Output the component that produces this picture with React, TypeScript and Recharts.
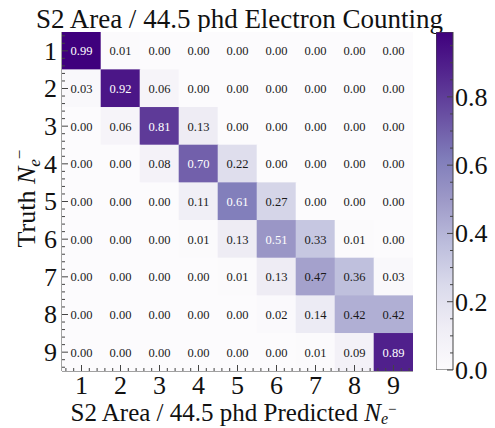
import React from 'react';
import { ScatterChart, Scatter, XAxis, YAxis, BarChart, Bar } from 'recharts';

const predicted = [1, 2, 3, 4, 5, 6, 7, 8, 9];
const truth = [1, 2, 3, 4, 5, 6, 7, 8, 9];
const row1 = [0.99, 0.01, 0.0, 0.0, 0.0, 0.0, 0.0, 0.0, 0.0];
const row2 = [0.03, 0.92, 0.06, 0.0, 0.0, 0.0, 0.0, 0.0, 0.0];
const row3 = [0.0, 0.06, 0.81, 0.13, 0.0, 0.0, 0.0, 0.0, 0.0];
const row4 = [0.0, 0.0, 0.08, 0.7, 0.22, 0.0, 0.0, 0.0, 0.0];
const row5 = [0.0, 0.0, 0.0, 0.11, 0.61, 0.27, 0.0, 0.0, 0.0];
const row6 = [0.0, 0.0, 0.0, 0.01, 0.13, 0.51, 0.33, 0.01, 0.0];
const row7 = [0.0, 0.0, 0.0, 0.0, 0.01, 0.13, 0.47, 0.36, 0.03];
const row8 = [0.0, 0.0, 0.0, 0.0, 0.0, 0.02, 0.14, 0.42, 0.42];
const row9 = [0.0, 0.0, 0.0, 0.0, 0.0, 0.0, 0.01, 0.09, 0.89];
const matrix = [row1, row2, row3, row4, row5, row6, row7, row8, row9];
const colorbarTicks = [0, 0.2, 0.4, 0.6, 0.8];
const vmax = 0.99;

const title = 'S2 Area / 44.5 phd Electron Counting';
const xLabel = 'S2 Area / 44.5 phd Predicted ';
const yLabel = 'Truth ';

const PURPLES = ['#fcfbfd', '#efedf5', '#dadaeb', '#bcbddc', '#9e9ac8', '#807dba', '#6a51a3', '#54278f', '#3f007d'];
const hex = (h: string) => [1, 3, 5].map((i) => parseInt(h.slice(i, i + 2), 16));
function purples(t: number) {
  const c = Math.max(0, Math.min(1, t)) * (PURPLES.length - 1);
  const i = Math.min(PURPLES.length - 2, Math.floor(c));
  const f = c - i;
  const a = hex(PURPLES[i]);
  const b = hex(PURPLES[i + 1]);
  const m = a.map((v, k) => Math.round(v + (b[k] - v) * f));
  return `rgb(${m[0]},${m[1]},${m[2]})`;
}

const data = truth.flatMap((t, r) => predicted.map((p, c) => ({ x: p, y: t, v: matrix[r][c] })));

const W = 495;
const H = 428;
const PL = 62;
const PT = 32;
const PR = 413;
const PB = 371;
const cellW = (PR - PL) / predicted.length;
const cellH = (PB - PT) / truth.length;
const FONT = 'Liberation Serif, Times New Roman, Tinos, Noto Serif, DejaVu Serif, serif';
const FRAME = '#444';
const BIG = 26;

const axisTicks: number[] = [];
for (let i = 3; i <= 47; i++) axisTicks.push(Math.round(i * 0.2 * 10) / 10);
const cbTicks: number[] = [];
for (let i = 0; i <= 19; i++) cbTicks.push(Math.round(i * 0.05 * 100) / 100);
const isMajor = (v: number, step: number) => Math.abs(v / step - Math.round(v / step)) < 1e-6;

const CellShape = (props: any) => {
  const { cx, cy, payload } = props;
  if (cx == null || cy == null) return null;
  const v = payload.v as number;
  const fill = purples(v / vmax);
  const color = v > vmax / 2 ? '#ffffff' : '#1a1a1a';
  return (
    <g>
      <rect x={cx - cellW / 2 - 0.3} y={cy - cellH / 2 - 0.3} width={cellW + 0.6} height={cellH + 0.6} fill={fill} />
      <text x={cx} y={cy} dy="0.35em" textAnchor="middle" fontSize={12.5} fontFamily={FONT} fill={color}>
        {v.toFixed(2)}
      </text>
    </g>
  );
};

const BottomTick = (props: any) => {
  const { x, y, payload } = props;
  const major = isMajor(payload.value, 1);
  return (
    <g>
      <line x1={x} x2={x} y1={y} y2={y - (major ? 6 : 3)} stroke={FRAME} strokeWidth={1} />
      {major && (
        <text x={x} y={y + 23} textAnchor="middle" fontSize={BIG} fontFamily={FONT} fill="#111">
          {payload.value}
        </text>
      )}
    </g>
  );
};
const TopTick = (props: any) => {
  const { x, y, payload } = props;
  const major = isMajor(payload.value, 1);
  return <line x1={x} x2={x} y1={y} y2={y + (major ? 6 : 3)} stroke={FRAME} strokeWidth={1} />;
};
const LeftTick = (props: any) => {
  const { x, y, payload } = props;
  const major = isMajor(payload.value, 1);
  return (
    <g>
      <line x1={x} x2={x + (major ? 6 : 3)} y1={y} y2={y} stroke={FRAME} strokeWidth={1} />
      {major && (
        <text x={x - 5} y={y} dy="0.34em" textAnchor="end" fontSize={BIG} fontFamily={FONT} fill="#111">
          {payload.value}
        </text>
      )}
    </g>
  );
};
const RightTick = (props: any) => {
  const { x, y, payload } = props;
  const major = isMajor(payload.value, 1);
  return <line x1={x} x2={x - (major ? 6 : 3)} y1={y} y2={y} stroke={FRAME} strokeWidth={1} />;
};
const CbTick = (props: any) => {
  const { x, y, payload } = props;
  const major = isMajor(payload.value, 0.2);
  return (
    <g>
      <line x1={x} x2={x - (major ? 6 : 3)} y1={y} y2={y} stroke={FRAME} strokeWidth={1} />
      {major && (
        <text x={x + 2} y={y} dy="0.34em" textAnchor="start" fontSize={BIG} fontFamily={FONT} fill="#111">
          {payload.value.toFixed(1)}
        </text>
      )}
    </g>
  );
};

const cbData = [{ name: 'cb', v: vmax }];

export default function App() {
  const dom: [number, number] = [0.5, 9.5];
  return (
    <div style={{ position: 'absolute', left: 0, top: 0, width: W, height: H, background: '#fff', fontFamily: FONT }}>
      <svg width={W} height={H} style={{ position: 'absolute', left: 0, top: 0 }}>
        <text x={(PL + PR) / 2 + 2} y={28} textAnchor="middle" fontSize={27} fontFamily={FONT} fill="#111">
          {title}
        </text>
        <text x={(PL + PR) / 2 - 4} y={421} textAnchor="middle" fontSize={25} fontFamily={FONT} fill="#111">
          {xLabel}
          <tspan fontStyle="italic">N</tspan>
          <tspan fontStyle="italic" fontSize={16} dy={3}>e</tspan>
          <tspan fontSize={15} dy={-10}>−</tspan>
        </text>
        <text
          transform={`translate(35, ${(PT + PB) / 2 - 3}) rotate(-90)`}
          textAnchor="middle"
          fontSize={BIG}
          fontFamily={FONT}
          fill="#111"
        >
          {yLabel}
          <tspan fontStyle="italic">N</tspan>
          <tspan fontStyle="italic" fontSize={17} dy={5}>e</tspan>
          <tspan fontSize={17} dy={-15}>−</tspan>
        </text>
      </svg>
      <div style={{ position: 'absolute', left: 0, top: 0 }}>
        <ScatterChart width={W} height={H} margin={{ top: PT, right: W - PR, bottom: 0, left: 0 }}>
          <XAxis xAxisId="b" type="number" dataKey="x" domain={dom} allowDataOverflow ticks={axisTicks} interval={0}
            orientation="bottom" height={H - PB} tickSize={0} tickMargin={0} tickLine={false}
            axisLine={{ stroke: FRAME }} tick={<BottomTick />} />
          <XAxis xAxisId="t" type="number" dataKey="x" domain={dom} allowDataOverflow ticks={axisTicks} interval={0}
            orientation="top" height={0} tickSize={0} tickMargin={0} tickLine={false}
            axisLine={{ stroke: FRAME }} tick={<TopTick />} />
          <YAxis yAxisId="l" type="number" dataKey="y" domain={dom} allowDataOverflow reversed ticks={axisTicks} interval={0}
            orientation="left" width={PL} tickSize={0} tickMargin={0} tickLine={false}
            axisLine={{ stroke: FRAME }} tick={<LeftTick />} />
          <YAxis yAxisId="r" type="number" dataKey="y" domain={dom} allowDataOverflow reversed ticks={axisTicks} interval={0}
            orientation="right" width={0} tickSize={0} tickMargin={0} tickLine={false}
            axisLine={{ stroke: FRAME }} tick={<RightTick />} />
          <Scatter data={data} xAxisId="b" yAxisId="l" shape={<CellShape />} isAnimationActive={false} />
          <Scatter data={data} xAxisId="t" yAxisId="r" shape={() => null} isAnimationActive={false} />
        </ScatterChart>
      </div>
      <div style={{ position: 'absolute', left: 436, top: 0 }}>
        <BarChart width={W - 436} height={H} data={cbData} margin={{ top: PT, right: 0, bottom: H - 370, left: 0 }}
          barCategoryGap={0}>
          <defs>
            <linearGradient id="cbGrad" x1="0" y1="1" x2="0" y2="0">
              {PURPLES.map((c, i) => (
                <stop key={i} offset={`${(i / (PURPLES.length - 1)) * 100}%`} stopColor={c} />
              ))}
            </linearGradient>
          </defs>
          <XAxis dataKey="name" hide />
          <YAxis orientation="right" type="number" domain={[0, vmax]} allowDataOverflow ticks={cbTicks} interval={0}
            width={W - 436 - 17} tickSize={0} tickMargin={0} tickLine={false} axisLine={false} tick={<CbTick />} />
          <Bar dataKey="v" fill="url(#cbGrad)" stroke={FRAME} strokeWidth={1} isAnimationActive={false} />
        </BarChart>
      </div>
    </div>
  );
}
